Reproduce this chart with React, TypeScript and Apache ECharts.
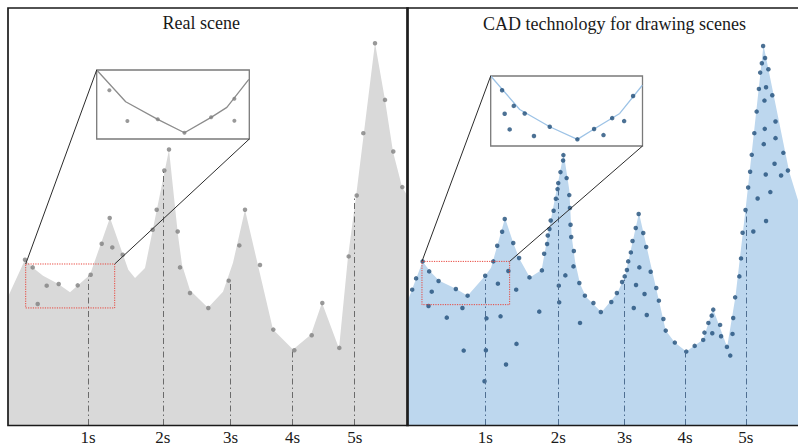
import React, { useEffect, useRef } from "react";
import * as echarts from "echarts";

// x: frame index within a panel (0..400), y: amplitude (0..417.5)
const FRAME_MAX = 400;
const AMP_MAX = 417.5;

const tickFrames = [80, 154.8, 222.5, 284.5, 346.7];
const tickLabels = ["1s", "2s", "3s", "4s", "5s"];
const realTickTops = [149.5, 254.5, 144.5, 74.8, 229.5];
const cadTickTops = [149.5, 237.5, 148.5, 73.5, 215.5];

const realOutline = [
  [0, 128.5], [17, 165.5], [25, 157.5], [35, 149.5], [50, 141.5], [62, 133],
  [82, 150.5], [102, 207.5], [120.3, 155.5], [127, 147.2], [137, 157.2],
  [161, 275.5], [170, 190], [174, 160.5], [182, 135], [200, 117.5],
  [215, 133.5], [225, 162.5], [237, 215.5], [265, 95.5], [285, 75.5],
  [303, 90.5], [314, 122.5], [331, 76.5], [340, 168.5], [348, 228.5],
  [367, 382.5], [377, 325.5], [385, 273.5], [394, 238.5], [400, 228.5],
];

const realDots = [
  [17, 165.5], [24.7, 157.8], [29.7, 121.2], [38.7, 139.5], [50.7, 141.2],
  [69.7, 139.8], [82.7, 150.5], [93.7, 181.5], [101.7, 207.2], [104.3, 177.8],
  [114.7, 170.5], [144.7, 195.5], [148.7, 215.5], [156.3, 254.8], [161, 275.8],
  [169.7, 193.8], [172, 157.8], [182, 132.2], [200.3, 117.2], [220.7, 144.5],
  [231.3, 179.8], [237, 215.5], [252, 160.2], [265.3, 95.5], [286.3, 74.8],
  [303.7, 89.8], [314.3, 122.2], [331.3, 77.2], [340.7, 168.8], [348.7, 229.8],
  [355.3, 292.2], [367, 382.2], [377, 325.5], [385.3, 273.8], [394.3, 238.2],
];

const cadOutline = [
  [0, 122.5], [16, 163.8], [24, 153.5], [33, 144.5], [50, 136.5], [62, 129.5],
  [80, 149.5], [86, 157.5], [100.3, 207.2], [109, 181.5], [115, 166.5],
  [125.7, 147.8], [137.7, 155.2], [144, 189.5], [160.3, 272.2], [166, 235.5],
  [168.5, 188.5], [172, 163.5], [177, 141.5], [183, 128.5], [199, 112.8],
  [215, 132], [223, 148.8], [237.3, 212.2], [264.7, 94.5], [274, 82.5],
  [285.7, 73.5], [303, 85.5], [313, 116.5], [327.5, 78], [336, 128.5],
  [346.3, 215.5], [364.7, 380.5], [391, 253.5], [400, 225],
];

const cadDots = [
  [5.3, 135.5], [9.3, 146.8], [16, 163.8], [22.7, 153.8], [25.3, 133.5],
  [22, 119.2], [32.3, 144.2], [40.7, 107.5], [50, 136.2], [56.7, 117.2],
  [58, 74.5], [62, 129.5], [80, 149.5], [81.3, 106.8], [80.7, 74.8],
  [79.3, 43.8], [88.3, 163.8], [92.3, 179.5], [93, 141.5], [95.7, 108.8],
  [97.3, 193.5], [100, 206.2], [101.3, 60.5], [103.7, 154.2], [108.7, 182.2],
  [111.7, 135.5], [112, 81.2],
  [114.7, 167.2], [125.3, 147.8], [135.3, 113.5], [138, 154.8], [140.3, 171.5],
  [143.3, 181.2], [144, 189.8], [145.7, 196.2], [147, 204.8], [150, 214.5],
  [152.3, 226.5], [154, 236.2], [154.7, 242.2], [157, 253.2], [159.7, 264.8],
  [160, 270.2], [163.3, 247.2], [166, 230.2], [166.7, 217.2], [167.3, 200.5],
  [168, 188.2], [170.7, 174.2], [170.3, 158.8], [162, 149.8], [155.3, 139.5],
  [155.7, 122.8], [176.3, 142.2], [177, 102.2], [182, 129.5], [190.7, 122.2],
  [198.3, 113.2], [209, 123.2], [214.7, 132.2],
  [220, 143.2], [222.7, 148.8], [225, 155.2], [226.3, 163.8], [229, 172.8],
  [230.7, 184.2], [234, 197.2], [237, 211.2], [241.7, 192.2], [244.7, 178.2],
  [237.7, 157.8], [249.3, 153.5], [234.3, 140.2], [255, 137.2], [243, 131.2],
  [257.7, 124.5], [232, 117.2], [245.3, 110.2], [262.3, 106.2], [264.7, 94.5],
  [274, 82.5], [285.7, 73.5], [294.3, 79.2], [303, 85.2], [304.3, 92.5],
  [312.3, 91.8], [308.3, 102.2], [311.7, 109.5], [313.3, 115.5],
  [320.3, 100.2], [321.3, 88.8], [327.3, 78.2], [330.7, 69.5], [333, 91.2],
  [333.7, 107.2], [335.7, 127.8], [340, 148.8], [341.7, 166.8], [343.3, 192.5],
  [354.3, 193.8], [346.3, 215.2], [367.3, 204.2],
  [364.3, 379.5], [366.3, 367.5], [363, 362.2], [369.7, 356.2], [361.3, 352.8],
  [367.3, 338.2], [360, 336.5], [373.7, 330.2], [365.7, 324.8], [357.7, 313.8],
  [377, 303.8], [366, 296.5], [355.3, 292.2], [377, 287.2], [365, 281.2],
  [385, 272.5], [352.7, 270.5], [376, 261.5], [389.7, 254.8], [351, 253.5],
  [367, 250.8], [382.7, 249.8], [349, 237.8], [371.7, 233.2], [358.7, 226.8],
];

// zoomed region shown in each inset: [frameFrom, frameTo, ampFrom, ampTo]
const realZoomBox = [17.7, 106.7, 117.2, 161.2];
const cadZoomBox = [15.3, 105, 120.5, 163.8];

// inset content, normalized 0..100
const realInsetLine = [[0, 100], [19, 54], [40, 28.5], [57.5, 9], [75, 31.4], [85.3, 45.9], [99.7, 86.5]];
const realInsetDots = [[8.3, 70.7], [20.1, 26.1], [40, 28.5], [57.5, 9], [75, 31.4], [90.2, 58.4], [90.2, 26.5]];
const cadInsetLine = [[0, 100], [19.1, 52.2], [38.9, 27.5], [57.1, 9.5], [68.1, 24.2], [85, 46.5], [99.9, 86.8]];
const cadInsetDots = [
  [7.5, 79.7], [15.2, 57.3], [9.2, 46], [22.4, 46.5], [12.5, 23.7], [28.5, 14.2],
  [38.9, 27.5], [57.1, 9.5], [68.1, 24.2], [74.3, 15.6], [80, 39.8], [87.9, 35.6], [93.8, 71.5],
];

const SERIF = '"Liberation Serif", "Times New Roman", serif';

const panels = [
  { left: 8, top: 8, width: 400, height: 417.5 },
  { left: 407, top: 8, width: 400, height: 417.5 },
];
const insets = [
  { left: 96.7, top: 70, width: 152.6, height: 69 },
  { left: 490.7, top: 76, width: 151.8, height: 70 },
];

export default function App() {
  const ref = useRef<HTMLDivElement>(null);
  useEffect(() => {
    if (!ref.current) return;
    const chart = echarts.init(ref.current, undefined, { renderer: "svg" });

    const labelFor = (v: number) => {
      let best = 0;
      tickFrames.forEach((f, i) => {
        if (Math.abs(f - v) < Math.abs(tickFrames[best] - v)) best = i;
      });
      return tickLabels[best];
    };

    const mainX = (gi: number) => ({
      type: "value",
      gridIndex: gi,
      min: 0,
      max: FRAME_MAX,
      axisLine: { show: false },
      axisTick: { show: false },
      splitLine: { show: false },
      axisLabel: {
        customValues: tickFrames,
        formatter: (v: number) => labelFor(v),
        fontFamily: SERIF,
        fontSize: 17,
        color: "#1a1a1a",
        margin: 4,
      },
    });
    const hiddenAxis = (gi: number, max: number) => ({
      type: "value",
      gridIndex: gi,
      min: 0,
      max,
      show: false,
    });

    const markLineFor = (tops: number[], color: string) => ({
      silent: true,
      symbol: ["none", "none"],
      label: { show: false },
      lineStyle: { color, width: 1, type: [6, 3, 1.5, 3] },
      data: tickFrames.map((f, i) => [{ coord: [f, 0] }, { coord: [f, tops[i]] }]),
    });

    const option: any = {
      animation: false,
      grid: [
        { ...panels[0] },
        { ...panels[1] },
        { ...insets[0], show: true, backgroundColor: "#ffffff", borderColor: "#7a7a7a", borderWidth: 1.3 },
        { ...insets[1], show: true, backgroundColor: "#ffffff", borderColor: "#7a7a7a", borderWidth: 1.3 },
      ],
      xAxis: [mainX(0), mainX(1), hiddenAxis(2, 100), hiddenAxis(3, 100)],
      yAxis: [hiddenAxis(0, AMP_MAX), hiddenAxis(1, AMP_MAX), hiddenAxis(2, 100), hiddenAxis(3, 100)],
      series: [
        {
          type: "line", xAxisIndex: 0, yAxisIndex: 0, data: realOutline,
          symbol: "none", lineStyle: { width: 0 }, areaStyle: { color: "#d9d9d9", opacity: 1 },
          markLine: markLineFor(realTickTops, "#6b6b6b"),
          z: 1,
        },
        {
          type: "scatter", xAxisIndex: 0, yAxisIndex: 0, data: realDots,
          symbolSize: 4.5, itemStyle: { color: "#7f7f7f" }, z: 3,
        },
        {
          type: "line", xAxisIndex: 1, yAxisIndex: 1, data: cadOutline,
          symbol: "none", lineStyle: { width: 0 }, areaStyle: { color: "#bdd7ee", opacity: 1 },
          markLine: markLineFor(cadTickTops, "#4f6f92"),
          z: 1,
        },
        {
          type: "scatter", xAxisIndex: 1, yAxisIndex: 1, data: cadDots,
          symbolSize: 4.5, itemStyle: { color: "#1f4e79" }, z: 3,
        },
        {
          type: "line", xAxisIndex: 2, yAxisIndex: 2, data: realInsetLine,
          symbol: "none", lineStyle: { color: "#8c8c8c", width: 1.3 }, z: 4,
        },
        {
          type: "scatter", xAxisIndex: 2, yAxisIndex: 2, data: realInsetDots,
          symbolSize: 4, itemStyle: { color: "#7f7f7f" }, z: 5,
        },
        {
          type: "line", xAxisIndex: 3, yAxisIndex: 3, data: cadInsetLine,
          symbol: "none", lineStyle: { color: "#9dc3e6", width: 1.3 }, z: 4,
        },
        {
          type: "scatter", xAxisIndex: 3, yAxisIndex: 3, data: cadInsetDots,
          symbolSize: 4.5, itemStyle: { color: "#1f4e79" }, z: 5,
        },
      ],
    };
    chart.setOption(option);

    const overlays: any[] = [];
    [realZoomBox, cadZoomBox].forEach((b, i) => {
      const tl = chart.convertToPixel({ gridIndex: i } as any, [b[0], b[3]]) as number[];
      const br = chart.convertToPixel({ gridIndex: i } as any, [b[1], b[2]]) as number[];
      const ins = insets[i];
      overlays.push({
        type: "rect", z: 40, silent: true,
        shape: { x: tl[0], y: tl[1], width: br[0] - tl[0], height: br[1] - tl[1] },
        style: { fill: "none", stroke: "#e8453c", lineWidth: 1, lineDash: [1.2, 1.2] },
      });
      overlays.push({
        type: "line", z: 50, silent: true,
        shape: { x1: ins.left, y1: ins.top, x2: tl[0], y2: tl[1] },
        style: { stroke: "#2b2b2b", lineWidth: 1 },
      });
      overlays.push({
        type: "line", z: 50, silent: true,
        shape: { x1: ins.left + ins.width, y1: ins.top + ins.height, x2: br[0], y2: tl[1] },
        style: { stroke: "#2b2b2b", lineWidth: 1 },
      });
    });

    const frames = panels.map((p) => ({
      type: "rect", z: 60, silent: true,
      shape: { x: p.left, y: p.top, width: p.width, height: p.height },
      style: { fill: "none", stroke: "#1a1a1a", lineWidth: 1.7 },
    }));

    const titles = [
      { text: "Real scene", x: 201.3, y: 23 },
      { text: "CAD technology for drawing scenes", x: 614.5, y: 23.5 },
    ].map((t) => ({
      type: "text", z: 60, silent: true, x: t.x, y: t.y,
      style: {
        text: t.text, font: `18px ${SERIF}`, fill: "#1a1a1a",
        align: "center", verticalAlign: "middle", textAlign: "center", textVerticalAlign: "middle",
      },
    }));

    chart.setOption({ graphic: [...overlays, ...frames, ...titles] });

    return () => chart.dispose();
  }, []);

  return (
    <div
      ref={ref}
      style={{ position: "absolute", left: 0, top: 0, width: 798, height: 446, background: "#ffffff" }}
    />
  );
}
